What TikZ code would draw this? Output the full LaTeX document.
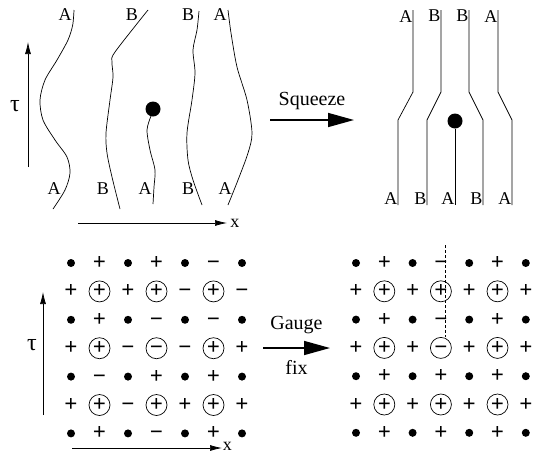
\documentclass[tikz,border=0pt]{standalone}
\usepackage{fontspec}
\setmainfont{Liberation Serif}
\usetikzlibrary{arrows.meta}
\usetikzlibrary{positioning}
\tikzset{wline/.style={black,line width=0.7pt}}
\tikzset{lab/.style={inner sep=0pt,font=\fontsize{18}{20}\selectfont}}
\tikzset{note/.style={inner sep=0pt,font=\fontsize{20}{22}\selectfont}}
\tikzset{taulab/.style={inner sep=0pt,font=\fontsize{24}{26}\selectfont}}
\tikzset{axis/.style={black,line width=0.7pt,-{Latex[length=12pt,width=6pt]}}}
\tikzset{bigarrow/.style={black,line width=1.6pt,-{Triangle[length=26pt,width=14pt]}}}
\tikzset{defect/.style={circle,fill=black,inner sep=0pt,minimum size=15pt}}
\tikzset{sign/.style={inner sep=0pt,font=\fontsize{23}{25}\selectfont\bfseries}}
\tikzset{
  site d/.style={circle,fill=black,inner sep=0pt,minimum size=8pt,node contents={}},
  site p/.style={sign,node contents={+}},
  site m/.style={sign,node contents={\vphantom{+}−}},
  site P/.style={sign,circle,draw,line width=0.7pt,minimum size=21pt,node contents={+}},
  site M/.style={sign,circle,draw,line width=0.7pt,minimum size=21pt,node contents={\vphantom{+}−}},
}

\begin{document}
\begin{tikzpicture}[x=1pt,y=-1pt]
  \useasboundingbox (0,0) rectangle (537,453);

  % World lines before squeezing
  \draw[wline] plot[smooth] coordinates {(74,10) (72.7,25) (68,40) (57,60) (45,80) (40,100) (43,120) (55,140) (67,157) (70,173) (65,190) (53,209)};
  \draw[wline] plot[smooth] coordinates {(148,10) (115,52) (112,62) (113,77) (110,100) (106,133) (107,153) (112,177) (120,209)};
  \node[defect] (d1) at (153,109) {};
  \draw[wline] plot[smooth] coordinates {(151,116) (147,130) (150,150) (155,170) (154,187) (153,204)};
  \draw[wline] plot[smooth] coordinates {(199,11) (197,30) (193,50) (195,73) (192,100) (187,133) (188,160) (193,180) (202,205)};
  \draw[wline] plot[smooth] coordinates {(228,10) (231,33) (237,67) (247,100) (252,133) (248,153) (238,180) (228,205)};

  % Labels
  \node[lab] (ta1) at (65,15) {A};
  \node[lab] (tb2) at (132,15) {B};
  \node[lab] (tb4) at (188,15) {B};
  \node[lab] (ta5) at (220,15) {A};
  \node[lab] (ba1) at (54,189) {A};
  \node[lab] (bb2) at (103,189) {B};
  \node[lab] (ba3) at (145,189) {A};
  \node[lab] (bb4) at (188,189) {B};
  \node[lab] (ba5) at (225,189) {A};

  % Axes
  \coordinate (tau0) at (28,167);
  \coordinate (tau1) at (28,42);
  \draw[axis] (tau0) -- (tau1);
  \node[taulab] (tauA) at (15,106) {τ};
  \coordinate (x0) at (78,223);
  \coordinate (x1) at (227,223);
  \draw[axis] (x0) -- (x1) node[lab,right=3pt] (xA) {x};

  % Squeeze
  \coordinate (sqL) at (270,120);
  \coordinate (sqR) at (354,120);
  \draw[bigarrow] (sqL) -- node[note,above=9pt] (squeeze) {Squeeze} (sqR);

  % World lines after squeezing
  \foreach \xt/\xb/\lt/\lb [count=\k] in {413/398/A/A,441/427/B/B,469/483/B/B,498/512/A/A}
  {
    \draw[wline] (\xt,10) coordinate (top\k) -- (\xt,92) -- (\xb,120) -- (\xb,205) coordinate (bot\k);
    \node[lab,anchor=north east] (tl\k) at ([xshift=-0.5pt]top\k) {\lt};
    \node[lab,anchor=south east] (bl\k) at ([xshift=-0.5pt]bot\k) {\lb};
  }
  \node[defect] (d2) at (455,121) {};
  \coordinate (botc) at (455,205);
  \draw[wline] (d2) -- (botc);
  \node[lab,anchor=south east] (blc) at ([xshift=-0.5pt]botc) {A};

  % Lattice before gauge fixing
  \foreach \row [count=\j from 0] in {{d,p,d,p,d,m,d},{p,P,p,P,m,P,m},{d,p,d,m,d,m,d},{p,P,m,M,m,P,p},{d,m,d,p,d,p,d},{p,P,m,P,p,P,p},{d,p,d,m,d,p,d}}
    \foreach \s [count=\i from 0] in \row
      \node (L\j\i) at ({71+28.5*\i},{263+28.4*\j}) [site \s];

  \coordinate (tau2) at (43,415);
  \coordinate (tau3) at (43,292);
  \draw[axis] (tau2) -- (tau3);
  \node[taulab] (tauB) at (32,345) {τ};
  \coordinate (x2) at (72,448);
  \coordinate (x3) at (222,448);
  \draw[axis] (x2) -- (x3) node[lab,right=0.5pt,yshift=1.5pt] (xB) {x};

  % Gauge fix
  \coordinate (gfL) at (263,348);
  \coordinate (gfR) at (330,348);
  \draw[bigarrow] (gfL) -- node[note,above=13pt] (gauge) {Gauge} node[note,below=12pt] (fix) {fix} (gfR);

  % Lattice after gauge fixing
  \foreach \row [count=\j from 0] in {{d,p,d,m,d,p,d},{p,P,p,P,p,P,p},{d,p,d,m,d,p,d},{p,P,p,M,p,P,p},{d,p,d,p,d,p,d},{p,P,p,P,p,P,p},{d,p,d,p,d,p,d}}
    \foreach \s [count=\i from 0] in \row
      \node (R\j\i) at ({356+28.3*\i},{263+28.3*\j}) [site \s];

  \coordinate (cut) at (445,245);
  \draw[wline,dash pattern=on 3pt off 2pt] (cut) -- (cut |- R33.north);
\end{tikzpicture}
\end{document}
